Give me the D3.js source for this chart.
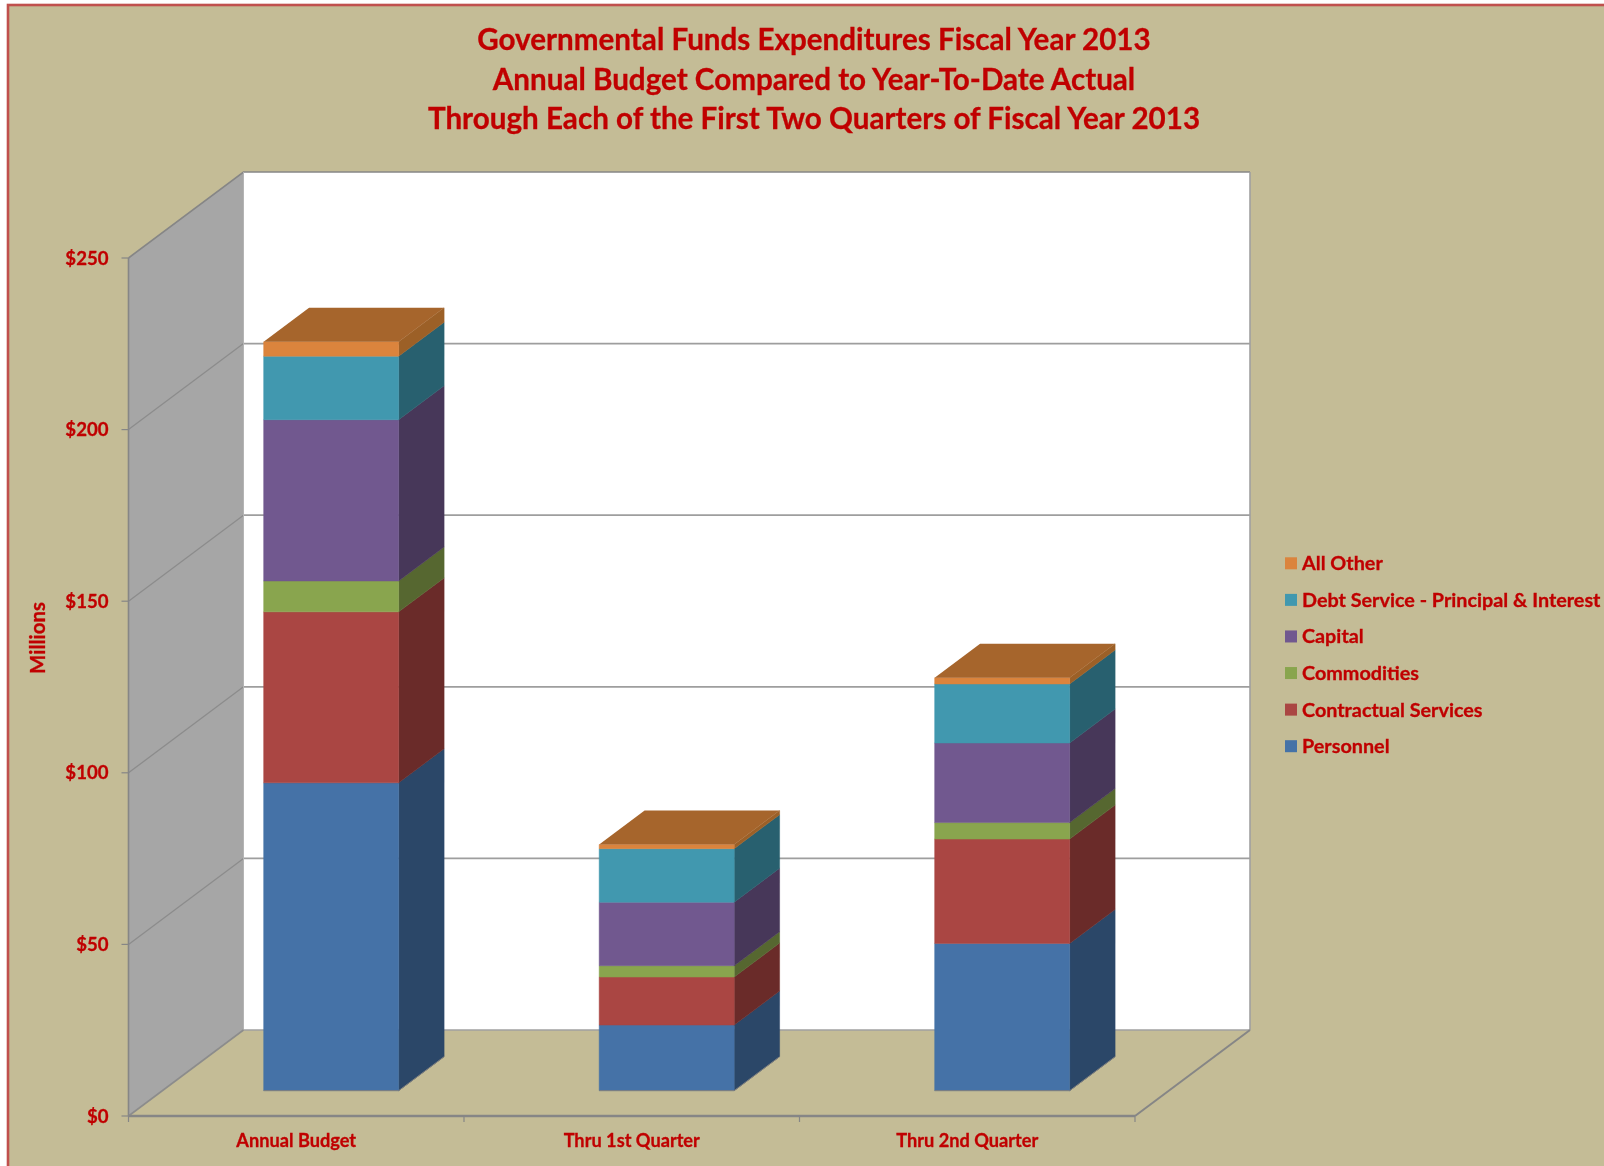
<!DOCTYPE html>
<html><head><meta charset="utf-8">
<script src="https://cdn.jsdelivr.net/npm/d3@7/dist/d3.min.js"></script>
<style>html,body{margin:0;padding:0;background:#fff;overflow:hidden}svg{display:block;filter:blur(0.45px)}
text{font-family:Lato,"Open Sans",sans-serif;font-weight:700;fill:#C00000;stroke:#C00000;stroke-width:0.3px}</style></head>
<body><svg id="c" width="1604" height="1166"></svg>
<script>
const categories=["Annual Budget","Thru 1st Quarter","Thru 2nd Quarter"];
const seriesNames=["Personnel","Contractual Services","Commodities","Capital","Debt Service - Principal & Interest","All Other"];
const personnel=[89.7,19.1,42.9];
const contractual=[49.8,14.0,30.4];
const commodities=[9.0,3.3,4.8];
const capital=[47.0,18.5,23.2];
const debtService=[18.5,15.6,17.2];
const allOther=[4.2,1.2,1.8];
const yTicks=[0,50,100,150,200,250];
const titleLines=["Governmental Funds Expenditures Fiscal Year 2013","Annual Budget Compared to Year-To-Date Actual","Through Each of the First Two Quarters of Fiscal Year 2013"];
const frontColors=["#4572A7","#AA4643","#89A54E","#71588F","#4198AF","#DB843D"];
const sideColors=["#2B4768","#6A2B29","#566730","#473759","#28606F","#9C6027"];
const topColor="#A6652C";

const series=[personnel,contractual,commodities,capital,debtService,allOther];
const svg=d3.select("#c");
const L=128.5,R=1135,B=1116,T=258,DX=115,DY=-86;
const y=d3.scaleLinear().domain([0,250]).range([B,T]);
const x=d3.scaleBand().domain(categories).range([L,R]).paddingInner(0).paddingOuter(0);
const depthX=d3.scaleLinear().domain([0,1]).range([0,DX]);
const depthY=d3.scaleLinear().domain([0,1]).range([0,DY]);
const barFront=0.295,barBack=0.69,barW=135;
const poly=p=>p.map(q=>q.join(",")).join(" ");

// chart area
svg.append("rect").attr("x",8).attr("y",5).attr("width",1700).attr("height",1300)
  .attr("fill","#C4BC96").attr("stroke","#C0504D").attr("stroke-width",2.6);

// back wall
svg.append("polygon").attr("fill","#fff")
  .attr("points",poly([[L+DX,y(0)+DY],[R+DX,y(0)+DY],[R+DX,y(250)+DY],[L+DX,y(250)+DY]]));
// side wall
svg.append("polygon").attr("fill","#A6A6A6")
  .attr("points",poly([[L,y(0)],[L+DX,y(0)+DY],[L+DX,y(250)+DY],[L,y(250)]]));
// gridlines
yTicks.slice(1,-1).forEach(t=>{
  svg.append("polyline").attr("fill","none").attr("stroke","#8C8C8C").attr("stroke-width",1.3)
   .attr("points",poly([[L,y(t)],[L+DX,y(t)+DY]]));
  svg.append("line").attr("stroke","#9E9E9E").attr("stroke-width",1.8)
   .attr("x1",L+DX).attr("x2",R+DX).attr("y1",y(t)+DY).attr("y2",y(t)+DY);
});
// wall edges
const edge=(pts,w,c)=>svg.append("polyline").attr("fill","none").attr("stroke",c||"#868686").attr("stroke-width",w).attr("points",poly(pts));
edge([[L,y(250)],[L+DX,y(250)+DY],[R+DX,y(250)+DY]],1.6);
edge([[R+DX,y(250)+DY],[R+DX,y(0)+DY]],1.6,"#A0A0A0");
edge([[L+DX,y(250)+DY],[L+DX,y(0)+DY]],1,"#B4B4B4");
edge([[L+DX,y(0)+DY],[R+DX,y(0)+DY]],1.6,"#A0A0A0");
edge([[L,y(0)],[L+DX,y(0)+DY]],1.6,"#8C8C8C");
edge([[R,y(0)],[R+DX,y(0)+DY]],2,"#868686");
edge([[L,y(250)],[L,y(0)]],1.6);
edge([[L,y(0)],[R,y(0)]],2.6);

// axis ticks and labels
yTicks.forEach(t=>{
  svg.append("line").attr("x1",L-7).attr("x2",L).attr("y1",y(t)).attr("y2",y(t)).attr("stroke","#868686").attr("stroke-width",1.2);
  svg.append("text").attr("x",108.5).attr("y",y(t)).attr("dy","0.35em").attr("text-anchor","end")
    .attr("font-size",18.6).text("$"+t);
});
d3.range(4).forEach(i=>{
  const px=L+i*x.bandwidth();
  svg.append("line").attr("x1",px).attr("x2",px).attr("y1",B).attr("y2",B+6).attr("stroke","#868686").attr("stroke-width",1.2);
});
categories.forEach(c=>{
  svg.append("text").attr("x",x(c)+x.bandwidth()/2).attr("y",1140.5).attr("dy","0.35em").attr("text-anchor","middle")
    .attr("font-size",18.2).text(c);
});
svg.append("text").attr("transform","translate(37.5,638) rotate(-90)").attr("dy","0.35em").attr("text-anchor","middle")
  .attr("font-size",20.4).text("Millions");

// bars
categories.forEach((c,ci)=>{
  const cx=x(c)+x.bandwidth()/2+depthX(barFront)+1;
  const x0=cx-barW/2,x1=cx+barW/2;
  const dy0=depthY(barFront), ddx=depthX(barBack-barFront), ddy=depthY(barBack-barFront);
  let acc=0;
  series.forEach((s,si)=>{
    const a=y(acc)+dy0,b=y(acc+s[ci])+dy0; acc+=s[ci];
    svg.append("polygon").attr("fill",sideColors[si]).attr("stroke",sideColors[si]).attr("stroke-width",0.5)
      .attr("points",poly([[x1,a],[x1+ddx,a+ddy],[x1+ddx,b+ddy],[x1,b]]));
    svg.append("polygon").attr("fill",frontColors[si]).attr("stroke",frontColors[si]).attr("stroke-width",0.5)
      .attr("points",poly([[x0,a],[x1,a],[x1,b],[x0,b]]));
  });
  const t=y(acc)+dy0;
  svg.append("polygon").attr("fill",topColor)
    .attr("points",poly([[x0,t],[x1,t],[x1+ddx,t+ddy],[x0+ddx,t+ddy]]));
  const b=y(0)+dy0;
  edge([[x0,b],[x1,b],[x1+ddx,b+ddy]],1,"#7F7F7F");
});

// legend
const legY=d3.scalePoint().domain(seriesNames.slice().reverse()).range([563.3,746.2]);
seriesNames.forEach((n,i)=>{
  svg.append("rect").attr("x",1285).attr("y",legY(n)-6).attr("width",12).attr("height",12).attr("fill",frontColors[i]);
  svg.append("text").attr("x",1302).attr("y",legY(n)).attr("dy","0.35em").attr("font-size",19.8).text(n);
});

// title
const titleY=[40,80,119];
titleLines.forEach((l,i)=>{
  svg.append("text").attr("x",814).attr("y",titleY[i]).attr("dy","0.35em").attr("text-anchor","middle")
    .attr("font-size",29.6).text(l);
});
</script></body></html>
